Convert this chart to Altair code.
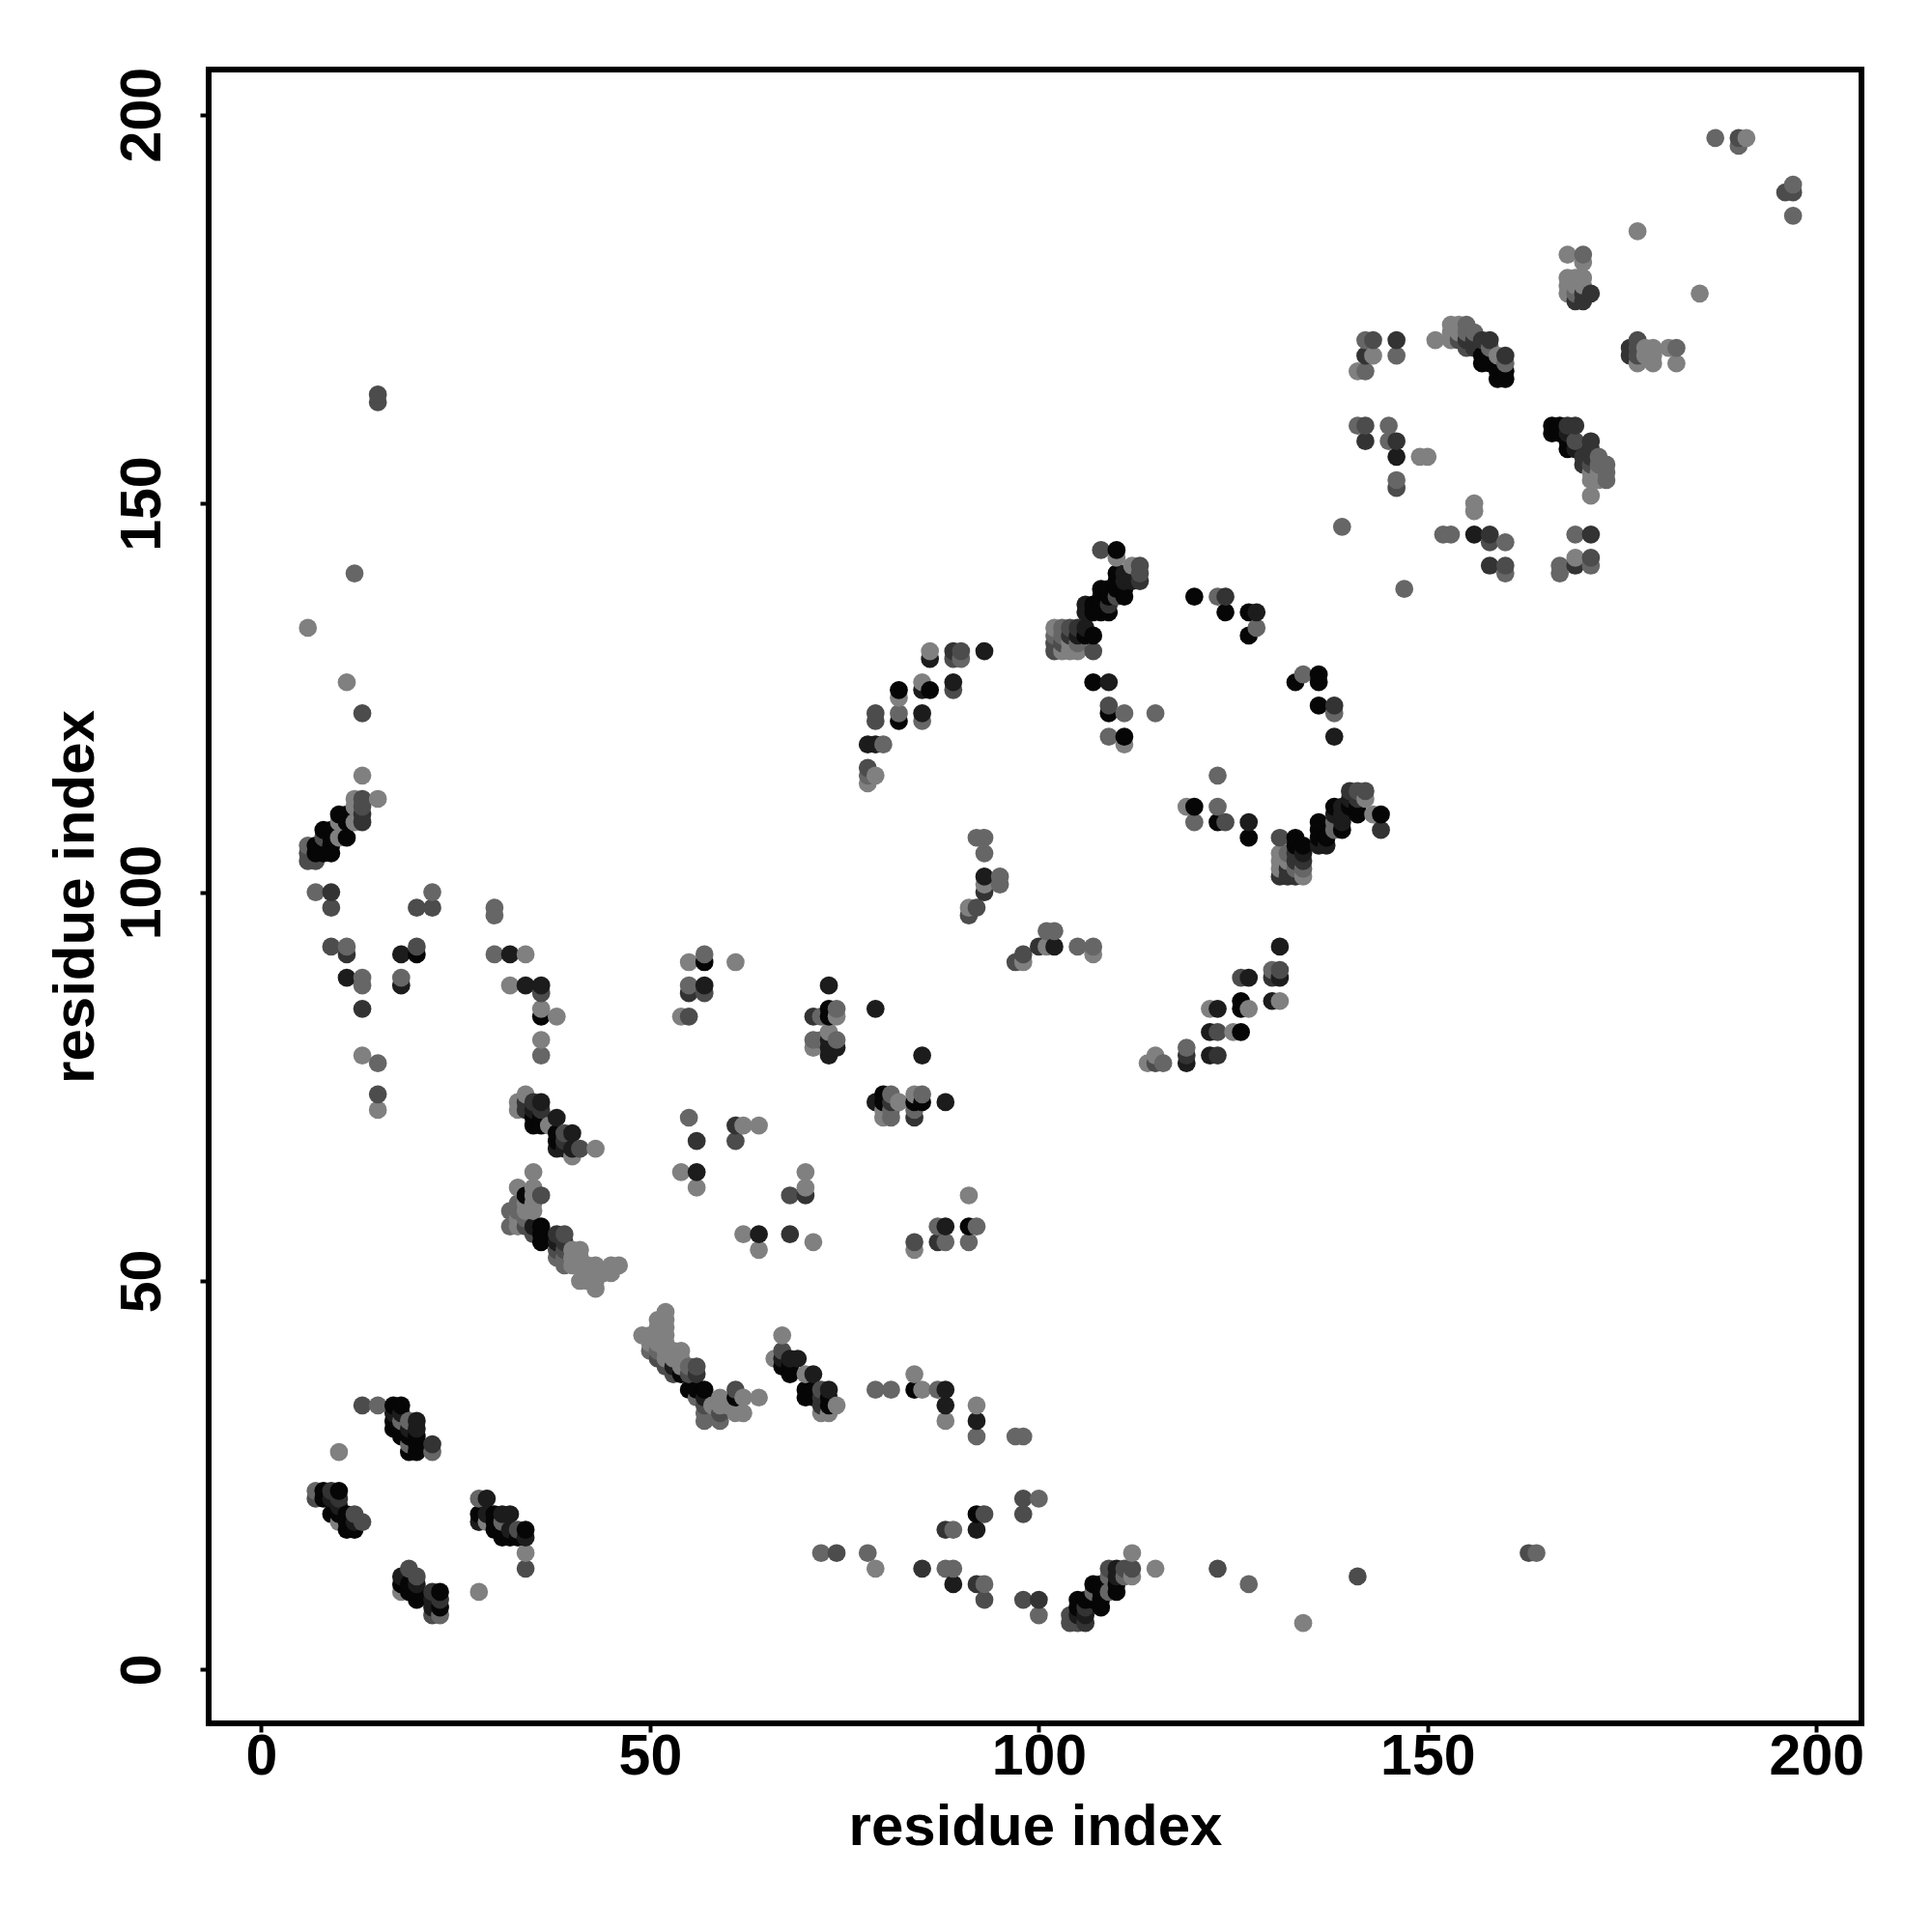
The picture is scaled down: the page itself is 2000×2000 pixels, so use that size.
import altair as alt
import pandas as pd

# shade codes: 0 = near black ... 5 = lightest grey
SHADES = ["#060606", "#1c1c1c", "#333333", "#4c4c4c", "#666666", "#808080"]

cluster_a = [(13,34,3),(15,34,4),(17,34,0),(18,34,0),(17,33,1),(17,32,0),(17,31,0),(18,33,1),(18,32,4),(18,31,0),(18,30,0),
             (19,32,4),(19,31,1),(19,30,0),(19,29,4),(19,28,0),(20,32,1),(20,31,1),(20,30,0),(20,29,0),(20,28,0),(22,29,2),(22,28,4),(10,28,5)]
cluster_b = [(7,23,4),(7,22,3),(8,23,0),(8,22,0),(9,23,2),(9,22,1),(10,23,0),(10,22,2),(10,21,1),(9,20,0),(10,20,0),(10,19,5),
             (11,20,0),(11,19,0),(11,18,0),(12,20,3),(12,19,1),(12,18,0),(13,19,3)]
cluster_c = [(28,22,4),(29,22,1),(28,20,0),(28,19,1),(29,20,1),(29,19,5),(30,20,0),(30,19,0),(30,18,0),(31,20,1),(31,19,4),(31,18,0),(31,17,0),
             (32,20,1),(32,18,1),(32,17,0),(33,18,3),(33,17,0),(34,18,0),(34,17,1),(34,15,5),(34,13,3),(28,10,5)]
cluster_d = [(19,13,3),(18,12,1),(20,12,3),(18,11,0),(19,11,0),(20,11,1),(18,10,5),(19,10,0),(20,10,0),(20,9,0),
             (22,10,2),(23,10,0),(22,9,1),(23,9,2),(22,8,1),(23,8,0),(22,7,3),(23,7,4)]
cluster_e = [(34,74,5),(33,73,5),(33,72,5),(34,73,2),(34,72,2),(35,73,2),(35,72,1),(36,73,1),(36,72,2),(35,71,0),(36,71,0),(35,70,0),(36,70,0),
             (37,70,5),(38,71,1),(38,69,0),(38,68,0),(38,67,1),(39,69,3),(39,68,2),(39,67,1),(40,69,1),(40,67,1),(40,66,5),(41,67,3),(43,67,5)]
cluster_f = [(35,64,5),(33,62,5),(34,61,0),(35,62,5),(35,61,5),(36,61,3),(33,60,4),(34,60,5),(35,60,5),(32,59,4),(33,59,4),(34,59,5),(35,59,5),
             (33,58,5),(34,58,4),(32,57,4),(33,57,5),(34,57,3),(35,57,1),(36,57,0),(35,56,3),(36,56,0),(36,55,0),(38,56,2),(39,56,3),(38,55,1),
             (38,54,3),(38,53,4),(39,55,2),(39,54,3),(39,53,4),(39,52,4),(40,54,5),(41,54,5),(40,53,5),(41,53,5),(40,52,5),(41,52,5),(41,50,5),
             (42,52,5),(43,52,5),(42,51,5),(43,51,5),(42,50,5),(43,50,5),(43,49,5),(44,51,5),(45,52,5),(46,52,5),(45,51,5)]
cluster_g = [(52,46,5),(51,45,5),(52,45,5),(49,43,5),(50,43,5),(51,43,5),(52,43,5),(51,44,5),(52,44,5),(50,42,5),(51,42,5),(52,42,5),(50,41,4),
             (51,41,4),(52,41,5),(53,41,5),(54,41,5),(51,40,3),(52,40,5),(53,40,5),(54,40,5),(52,39,3),(53,39,1),(54,39,5),(55,39,4),(56,39,3),
             (53,38,3),(54,38,0),(55,38,3),(56,38,2),(55,36,0),(56,36,0),(57,36,0),(56,35,4),(57,35,1),(57,34,3),(57,33,4),(57,32,4),(58,34,5),
             (59,35,5),(59,34,5),(59,33,3),(59,32,4),(60,34,5),(61,36,3),(61,35,0),(61,34,5),(61,33,5),(62,35,5),(62,33,5),(64,35,5)]
cluster_h = [(67,43,5),(66,40,5),(67,41,3),(67,40,1),(67,39,0),(68,40,1),(68,39,0),(68,38,0),(69,40,1),(70,38,5),(71,38,1),(70,36,0),(70,35,0),
             (71,36,0),(71,35,0),(72,36,3),(72,35,2),(72,34,2),(72,33,5),(73,36,1),(73,35,0),(73,34,0),(73,33,5),(74,34,5),
             (79,36,4),(81,36,4),(84,38,5),(84,36,0),(85,36,5),(87,36,4),(88,36,1),(88,34,1),(88,32,5)]
scatter_mid = [(55,71,4),(56,68,2),(61,70,2),(62,70,5),(64,70,5),(61,68,3),(54,64,5),(56,64,1),(56,62,5),(70,64,5),(70,62,5),(70,61,2),(68,61,3),
               (62,56,5),(64,56,1),(64,54,5),(68,56,2),(71,55,5),(84,55,3),(84,54,5),(87,57,4),(88,57,1),(87,55,2),(88,55,4),(91,61,5),(91,57,0),(92,57,4),(91,55,4)]
cluster_i = [(73,88,1),(79,85,1),(85,79,1),(71,84,2),(72,84,4),(73,85,0),(73,84,0),(74,85,4),(74,84,5),(71,81,4),(71,80,5),(72,81,4),(73,82,5),
             (73,81,1),(73,80,1),(73,79,1),(74,81,4),(74,80,1)]
cluster_j = [(79,73,1),(80,74,0),(80,73,0),(80,72,5),(80,71,5),(81,74,4),(81,73,2),(81,72,4),(81,71,4),(82,73,5),
             (84,74,5),(84,73,0),(84,72,4),(84,71,2),(85,74,4),(85,73,0),(88,73,1)]
left_col = [(55,91,5),(57,91,0),(57,92,4),(61,91,5),(55,88,4),(57,88,1),(55,87,2),(57,87,3),(54,84,5),(55,84,3),
            (97,91,3),(98,92,3),(98,91,5),(100,93,2),(101,93,5),(102,93,1),(101,95,4),(102,95,4),(105,93,4),(107,93,4),(107,92,5),
            (114,78,5),(115,79,5),(115,78,3),(116,78,4)]
hairpin_left = [(13,115,5),(15,112,5),(12,112,5),(13,112,3),(12,111,5),(13,111,3),(13,110,2),(13,109,2),(12,109,5),(10,110,0),(11,110,0),(10,109,5),
                (11,109,0),(11,107,0),(10,107,5),(8,108,0),(9,108,0),(8,107,3),(9,107,0),(9,106,0),(8,106,0),(7,106,0),(6,106,4),(6,105,3),(7,105,0),
                (8,105,0),(9,105,0),(6,104,3),(7,104,3)]
scatter_left = [(7,100,4),(9,100,2),(9,98,3),(22,100,4),(20,98,3),(22,98,3),(30,98,4),(30,97,4),(9,93,3),(11,93,4),(11,92,2),(18,92,1),(20,93,3),(20,92,0),
                (30,92,4),(32,92,1),(34,92,5),(11,89,1),(13,89,4),(13,88,4),(18,89,4),(18,88,1),(32,88,5),(34,88,1),(36,88,1),(36,87,3),(36,85,5),(36,84,0),
                (38,84,5),(13,85,2),(36,81,5),(36,79,4),(13,79,5),(15,78,4),(15,74,3),(15,72,5),(15,164,3),(15,163,3),(12,141,4),(6,134,5),(11,127,5),(13,123,3)]
lower_mid = [(72,15,4),(74,15,3),(78,15,4),(79,13,5),(85,13,2),(88,13,4),(89,13,4),(89,11,1),(92,34,5),(92,32,1),(92,30,4),(97,30,4),(98,30,4),
             (98,22,3),(100,22,4),(98,20,3),(92,20,0),(93,20,3),(92,18,1),(88,18,2),(89,18,4),(92,11,2),(93,11,4),(93,9,3),(98,9,3),(100,9,2),(100,7,4),
             (163,15,3),(164,15,4),(141,12,3),(123,13,3),(127,11,4),(134,6,5),(115,13,5),(112,15,5)]
cluster_k = [(104,7,3),(104,6,3),(105,9,0),(105,8,0),(105,7,1),(105,6,3),(106,9,0),(106,8,2),(106,7,1),(106,6,2),(107,11,0),(107,10,4),(107,9,0),
             (108,11,0),(108,10,0),(108,9,0),(108,8,0),(109,13,3),(109,12,4),(109,10,4),(110,13,1),(110,12,1),(110,11,0),(110,10,0),(111,13,3),(111,12,4),
             (112,13,3),(112,12,5)]
cluster_l = [(108,144,3),(110,144,0),(110,143,5),(112,142,5),(113,142,3),(113,141,3),(113,140,2),(112,141,1),(112,140,1),(110,141,0),(111,141,1),(110,140,0),
             (111,140,1),(111,139,0),(111,138,0),(110,139,0),(108,139,0),(109,139,0),(108,138,0),(109,138,0),(110,138,3),(109,137,2),(109,136,0),(108,137,0),(108,136,0),
             (106,137,1),(107,137,0),(106,136,1),(107,136,0),(102,134,5),(103,134,4),(104,134,3),(105,134,2),(106,134,1),(102,133,4),(103,133,4),(104,133,2),
             (105,133,1),(106,133,0),(107,133,0),(102,132,3),(103,132,3),(104,132,5),(105,132,4),(102,131,3),(103,131,5),(104,131,5),(105,131,5),(107,131,3),
             (107,127,0),(109,127,1),(109,124,3),(109,123,0),(111,123,4),(115,123,4),(109,120,4),(111,120,0),(111,119,5)]
arc_left = [(86,131,5),(86,130,1),(89,131,2),(90,131,3),(89,130,3),(90,130,4),(93,131,1),(85,127,5),(85,126,1),(86,126,0),(89,127,1),(89,126,3),
            (82,126,0),(82,125,5),(79,123,3),(79,122,3),(82,123,4),(82,122,0),(85,123,1),(85,122,4),(78,119,1),(79,119,1),(80,119,4),(78,116,3),(78,115,4),(78,114,5),(79,115,5)]
hairpin_mid = [(92,107,4),(93,107,4),(93,105,4),(93,102,1),(95,102,4),(95,101,4),(93,101,5),(93,100,2),(91,98,5),(92,98,3),(91,97,3)]
ring = [(120,138,0),(123,138,4),(124,138,2),(124,136,0),(127,136,0),(128,136,1),(128,134,4),(127,133,0),(134,128,4),(133,127,0),(136,128,0),(136,127,0),
        (136,124,0),(138,124,2),(138,123,4),(138,120,1),(123,115,4),(119,111,5),(120,111,0),(123,111,4),(120,109,4),(123,109,0),(124,109,3),(127,109,1),(127,107,0)]
cluster_m = [(131,107,3),(131,105,5),(131,104,5),(131,103,5),(131,102,2),(132,105,4),(132,104,5),(132,103,2),(132,102,2),(133,107,0),(133,106,0),(133,105,2),
             (133,104,2),(133,103,4),(133,102,2),(134,106,0),(134,105,1),(134,104,2),(134,103,4),(134,102,5),
             (136,109,0),(136,108,0),(136,107,0),(136,106,1),(137,107,0),(137,106,1),(138,111,0),(138,110,1),(138,109,4),(138,108,4),(139,111,1),(139,110,1),(139,109,1),
             (139,108,0),(140,113,2),(140,112,1),(140,111,0),(141,113,3),(141,112,2),(141,111,0),(141,110,0),(142,113,3),(142,112,5),(143,110,5),(144,110,0),(144,108,2)]
lower_right = [(131,93,1),(126,89,3),(127,89,1),(130,90,4),(131,90,3),(130,89,2),(131,89,1),(130,86,1),(131,86,5),(126,86,0),(126,85,0),(127,85,5),(122,85,5),(123,85,1),
               (122,82,1),(123,82,3),(125,82,5),(126,82,0),(119,80,4),(119,79,2),(119,78,1),(122,79,1),(123,79,2)]
cluster_n = [(142,171,4),(143,171,3),(146,171,2),(142,169,2),(143,169,5),(146,169,4),(141,167,5),(142,167,4),(151,171,5),(153,173,5),(154,173,5),(155,173,4),
             (153,172,5),(154,172,5),(155,172,4),(156,172,4),(153,171,5),(154,171,3),(155,171,2),(155,170,3),(156,171,2),(156,170,2),(157,171,2),(158,171,2),(157,169,0),(158,170,4),
             (158,169,0),(157,168,0),(158,168,0),(159,169,5),(160,169,2),(159,167,0),(160,168,4),(160,167,0),(159,166,0),(160,166,0)]
cluster_o = [(177,171,3),(176,170,2),(176,169,2),(177,170,3),(177,169,3),(177,168,5),(178,170,5),(179,170,5),(178,169,5),(179,169,5),(179,168,5),(181,170,5),(182,170,4),(182,168,5),
             (168,182,5),(170,182,4),(170,181,5),(168,179,5),(169,179,5),(170,179,5),(168,178,5),(169,178,5),(170,178,5),(168,177,5),(169,177,4),(170,177,2),(171,177,2),(169,176,2),(170,176,2),
             (187,197,4),(190,197,3),(191,197,5),(190,196,4),(196,190,3),(197,191,4),(197,190,3),(197,187,4),(177,185,5),(185,177,5)]
cluster_p = [(141,160,4),(142,160,3),(142,158,2),(145,160,4),(145,158,4),(146,158,2),(146,156,1),(149,156,5),(150,156,5),(146,153,4),(146,152,3),(156,150,5),(156,149,5),(139,147,4),
             (152,146,4),(153,146,4),(156,146,1),(158,146,2),(158,145,3),(160,145,4),(158,142,2),(160,142,3),(160,141,4),(147,139,4)]
cluster_q = [(166,160,0),(167,160,0),(166,159,0),(168,160,2),(169,160,2),(167,159,0),(168,159,1),(168,158,0),(168,157,0),(169,158,3),(169,157,1),(171,158,2),(171,157,2),(170,156,2),(171,156,2),
             (170,155,2),(172,156,4),(172,155,4),(173,155,4),(173,154,4),(173,153,4),(171,155,3),(171,154,5),(171,153,5),(172,154,5),(172,153,5),(171,151,5),(169,146,4),(171,146,2),(169,143,5),(169,142,2),(171,143,3),(171,142,4),(167,142,4),(167,141,4)]

all_clusters = [cluster_a, cluster_b, cluster_c, cluster_d, cluster_e, cluster_f, cluster_g, cluster_h, scatter_mid, cluster_i, cluster_j,
                left_col, hairpin_left, scatter_left, lower_mid, cluster_k, cluster_l, arc_left, hairpin_mid, ring, cluster_m, lower_right,
                cluster_n, cluster_o, cluster_p, cluster_q]
rows = [r for c in all_clusters for r in c]
df = pd.DataFrame(rows, columns=["i", "j", "s"]).drop_duplicates(["i", "j"]).sort_values(["i", "j"])
df["grey"] = [SHADES[k] for k in df["s"]]

FONT = "Liberation Sans"
ticks = [0, 50, 100, 150, 200]

chart = alt.Chart(df).mark_circle(size=350, opacity=1).encode(
    x=alt.X("i:Q", scale=alt.Scale(domain=[-6.76, 205.8], nice=False, zero=False),
            axis=alt.Axis(values=ticks, title="residue index", grid=False, domain=False, labelFlush=False,
                          tickSize=9, tickWidth=4, tickColor="black", labelFontSize=59, labelFont=FONT, labelFontWeight="bold",
                          labelColor="black", labelPadding=-4, titleFont=FONT, titleFontSize=60, titleFontWeight="bold",
                          titleColor="black", titlePadding=14, labelOverlap=False)),
    y=alt.Y("j:Q", scale=alt.Scale(domain=[-6.9, 205.8], nice=False, zero=False),
            axis=alt.Axis(values=ticks, title="residue index", grid=False, domain=False, labelFlush=False,
                          tickSize=9, tickWidth=4, tickColor="black", labelFontSize=59, labelFont=FONT, labelFontWeight="bold",
                          labelColor="black", labelAngle=270, labelAlign="center", labelBaseline="bottom", labelPadding=30,
                          titleFont=FONT, titleFontSize=60, titleFontWeight="bold", titleColor="black", titlePadding=9, labelOverlap=False)),
    color=alt.Color("grey:N", scale=None),
).properties(
    width=1711, height=1712, background="white",
    padding={"left": 208, "top": 64, "right": 40, "bottom": 190},
    autosize=alt.AutoSizeParams(type="none"),
).configure_view(stroke="black", strokeWidth=6)

chart.save("out.html", embed_options={"renderer": "svg", "actions": False})
